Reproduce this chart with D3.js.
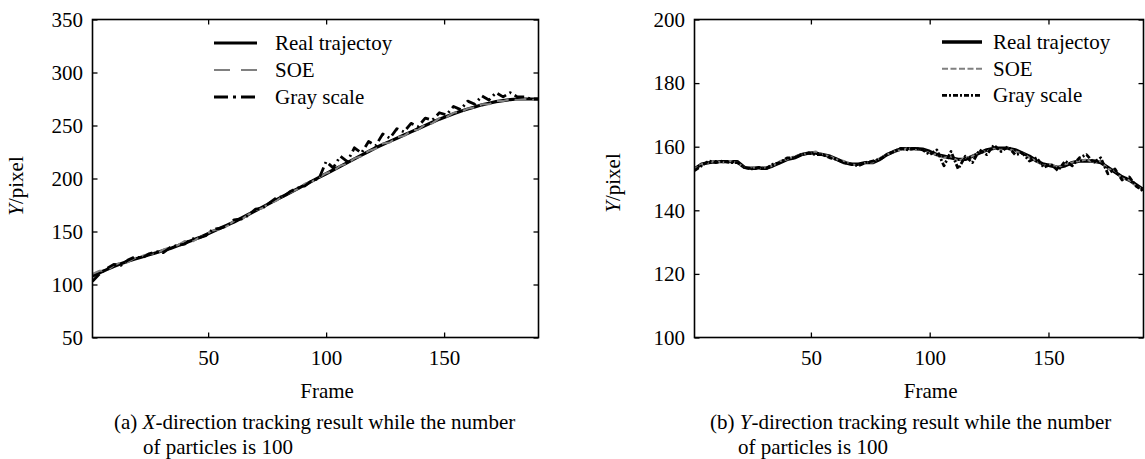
<!DOCTYPE html>
<meta charset="utf-8">
<style>
  body { margin: 0; background: #fff; }
  #chart text { font-family: "Liberation Serif"; }
</style>
<svg id="chart" width="1145" height="459"></svg>
<script src="https://d3js.org/d3.v7.min.js"></script>
<script>

// frame index shared by every series
var frames = [1,4,7,10,13,16,19,22,25,28,31,34,37,40,43,46,49,52,55,58,61,64,67,70,73,76,79,82,85,88,91,94,97,100,
              103,106,109,112,115,118,121,124,127,130,133,136,139,142,145,148,151,154,157,160,163,166,169,172,175,178,181,184,187,190];

// (a) X-direction
var xReal = [108,111,114,117,119.5,122,124,126,128,130,132,134,136.5,139,141.5,144,147,150,153,156,159,162.5,166,169.5,173,176.5,
             180,183.5,187,190.5,194,197.5,201,204.5,208,211.5,215,218.5,222,225.5,229,232,235,238,241,244,247,250,253,256,
             258.5,261,263.5,265.5,267.5,269.5,271,272.5,273.5,274.5,275,275,275,275];
var xSoe  = [110,113,113,118,121,121,125,127,129,129,133,135,137,141,140,144,147,151,152,155,160,161,166,170,172,177,179,184,187,190,
             195,197,201,205,207,212,214,219,221,226,228,233,234,239,240,245,246,251,252,257,258,262,263,266,267,270,270,273,273,275,
             274,275,274,275];
var xGray = [103,110,115,119,118,123,126,125,129,131,130,135,137,138,143,144,146,152,153,155,161,162,165,171,172,177,182,183,188,191,
             193,198,200,216,210,221,216,229,224,235,231,242,238,247,244,252,249,257,255,262,260,268,265,273,270,278,274,281,277,281,
             277,277,275,275];

// (b) Y-direction
var yReal = [153,154.5,155,155.3,155.3,155.3,155.3,153.5,153.2,153.2,153.2,154,155,156,156.5,157.5,158,158,157.5,157,156,155,154.5,154.5,
             155,155,156,157.5,158.5,159.3,159.4,159.4,159.2,158.5,157.5,157,156.5,156,156,157,158,159,159.5,159.5,159.5,159,158,157,
             155.5,154.5,154,153.5,154,155,155.5,155.5,155.5,155,153.5,152,150.5,149.5,148,146.5];
var ySoe  = [153,154.5,155,155.5,155,155.5,155,153.5,153.5,153,153.5,154,155.5,156,157,157.5,158,158.5,157.5,157,156,155.5,154.5,154,
             155,155,156.5,157.5,158.5,159,159.5,159,159,158,157.5,156.5,157,155.5,156.5,157,158.5,158.5,159.5,159,159.5,158.5,158,156.5,
             155.5,154,154.5,153.5,154.5,155,155.5,156,155,155.5,153,152.5,150,149.5,147.5,146.5];
var yGray = [152.5,154,155.5,155,155.5,155,155,153.5,153,153.5,153,154.5,155,156.5,156.5,157.5,158,157.5,157.5,156.5,156,155,154.5,154,
             155,155.5,156,157.5,158.5,159.5,159,159.5,159,157.5,159,154,158.5,153,157,155,159,157.5,160.5,158.5,160,157.5,158,155.5,
             156.5,153.5,154.5,152.5,155.5,154,156.5,157.5,155,156.5,151.5,153,149.5,150.5,147.5,146];

var frameTicks = [50, 100, 150];
var yTicksA = [50, 100, 150, 200, 250, 300, 350];
var yTicksB = [100, 120, 140, 160, 180, 200];
var legendNames = ["Real trajectoy", "SOE", "Gray scale"];

var svg = d3.select("#chart");
var fontSize = 21;

function label(sel) {
  return sel.style("font-family", "Liberation Serif").style("font-size", fontSize + "px").attr("fill", "#000");
}

function panel(o) {
  var x = d3.scaleLinear().domain([1, 190]).range([o.left, o.right]);
  var y = d3.scaleLinear().domain(o.yDomain).range([o.bottom, o.top]);
  var g = svg.append("g");

  g.append("clipPath").attr("id", o.id + "-clip")
    .append("rect")
      .attr("x", o.left).attr("y", o.top)
      .attr("width", o.right - o.left).attr("height", o.bottom - o.top);

  var line = d3.line()
      .x(function(d, i) { return x(frames[i]); })
      .y(function(d) { return y(d); });

  var plot = g.append("g").attr("clip-path", "url(#" + o.id + "-clip)");
  o.series.forEach(function(s) {
    plot.append("path")
        .attr("d", line(s.values))
        .attr("fill", "none")
        .attr("stroke", s.color)
        .attr("stroke-width", s.width)
        .attr("stroke-dasharray", s.dash)
        .attr("stroke-linejoin", "round");
  });

  // axes, ticks pointing inward on all four sides
  var bottom = g.append("g")
      .attr("transform", "translate(0," + o.bottom + ")")
      .call(d3.axisBottom(x).tickValues(frameTicks).tickSize(-5).tickPadding(12.5));
  var top = g.append("g")
      .attr("transform", "translate(0," + o.top + ")")
      .call(d3.axisTop(x).tickValues(frameTicks).tickSize(-5).tickFormat(""));
  var left = g.append("g")
      .attr("transform", "translate(" + o.left + ",0)")
      .call(d3.axisLeft(y).tickValues(o.yTicks).tickSize(-5).tickPadding(9.5));
  var right = g.append("g")
      .attr("transform", "translate(" + o.right + ",0)")
      .call(d3.axisRight(y).tickValues(o.yTicks).tickSize(-5).tickFormat(""));

  [bottom, top, left, right].forEach(function(a) {
    a.select(".domain").remove();
    a.selectAll("line").attr("stroke", "#000").attr("stroke-width", 1.3);
    label(a.selectAll("text"));
  });

  g.append("rect")
      .attr("x", o.left).attr("y", o.top)
      .attr("width", o.right - o.left).attr("height", o.bottom - o.top)
      .attr("fill", "none").attr("stroke", "#000").attr("stroke-width", 1.6);

  // legend
  var lg = g.append("g");
  o.series.forEach(function(s, i) {
    var ly = o.legend.y + i * o.legend.step;
    lg.append("line")
        .attr("x1", o.legend.x1).attr("x2", o.legend.x2)
        .attr("y1", ly).attr("y2", ly)
        .attr("stroke", s.color).attr("stroke-width", s.width)
        .attr("stroke-dasharray", s.legendDash || s.dash);
    label(lg.append("text"))
        .attr("x", o.legend.tx).attr("y", ly).attr("dy", "0.33em")
        .text(legendNames[i]);
  });

  // axis titles
  var yl = label(g.append("text"))
      .attr("transform", "translate(" + o.ylabelX + "," + o.ylabelY + ") rotate(-90)")
      .attr("text-anchor", "middle");
  yl.append("tspan").style("font-style", "italic").text("Y");
  yl.append("tspan").text("/pixel");

  label(g.append("text"))
      .attr("x", x(100) + 1).attr("y", 398)
      .attr("text-anchor", "middle")
      .text("Frame");

  // caption
  var c1 = label(g.append("text")).attr("x", o.capX).attr("y", 429);
  c1.append("tspan").text(o.capTag + " ");
  c1.append("tspan").style("font-style", "italic").text(o.capAxis);
  c1.append("tspan").text("-direction tracking result while the number");
  label(g.append("text"))
      .attr("x", o.capX2).attr("y", 454)
      .text("of particles is 100");
}

panel({
  id: "pa", left: 92.5, right: 538.5, top: 19.5, bottom: 337.5,
  yDomain: [50, 350], yTicks: yTicksA,
  series: [
    {values: xReal, color: "#000", width: 3.2, dash: null},
    {values: xSoe, color: "#808080", width: 2, dash: "12,6", legendDash: "16,11"},
    {values: xGray, color: "#000", width: 2.8, dash: "10,4,2,4", legendDash: "14,5,3,5"}
  ],
  legend: {x1: 214, x2: 257, tx: 275, y: 43, step: 27},
  ylabelX: 23, ylabelY: 186,
  capX: 114, capX2: 143, capTag: "(a)", capAxis: "X"
});

panel({
  id: "pb", left: 694.5, right: 1143.5, top: 19.5, bottom: 337.5,
  yDomain: [100, 200], yTicks: yTicksB,
  series: [
    {values: yReal, color: "#000", width: 3.4, dash: null},
    {values: ySoe, color: "#808080", width: 2, dash: "4,2", legendDash: "6,2.5"},
    {values: yGray, color: "#000", width: 2.8, dash: "5,2,2,2"}
  ],
  legend: {x1: 942, x2: 982, tx: 993, y: 42, step: 26.7},
  ylabelX: 620, ylabelY: 183,
  capX: 710, capX2: 738, capTag: "(b)", capAxis: "Y"
});
</script>
